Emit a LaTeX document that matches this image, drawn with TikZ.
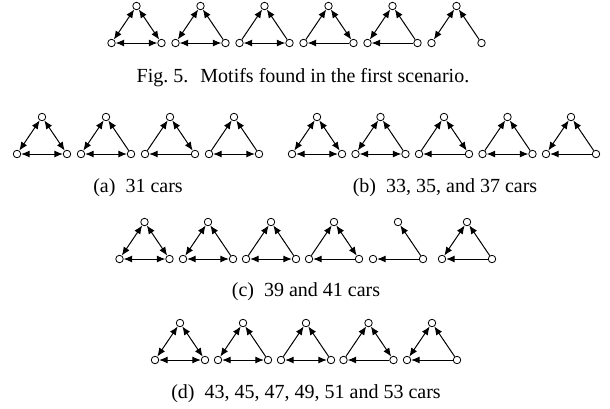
\documentclass[tikz,border=0pt]{standalone}
\usepackage{fontspec}
\setmainfont{Liberation Serif}
\usetikzlibrary{arrows.meta}
\tikzset{
  vtx/.style={circle,draw,line width=0.8pt,fill=white,inner sep=0pt,minimum size=7.5pt},
  tip/.tip={Latex[length=8.5pt,width=7pt]},
  bi/.style={line width=1pt,tip-tip},
  one/.style={line width=1pt,-tip},
  lbl/.style={anchor=base,inner sep=0pt,font=\fontsize{20}{24}\selectfont}
}
% three vertices of one motif: top, left, right
\newcommand\tri[3]{%
  \node[vtx] (#1t) at (#2,#3) {};
  \node[vtx] (#1l) at (#2-25,#3+37) {};
  \node[vtx] (#1r) at (#2+25,#3+37) {};}
\newcommand\mA[1]{\draw[bi] (#1t)--(#1l); \draw[bi] (#1t)--(#1r); \draw[bi] (#1l)--(#1r);}
\newcommand\mB[1]{\draw[bi] (#1t)--(#1l); \draw[one] (#1r)--(#1t); \draw[bi] (#1l)--(#1r);}
\newcommand\mC[1]{\draw[one] (#1l)--(#1t); \draw[one] (#1r)--(#1t); \draw[bi] (#1l)--(#1r);}
\newcommand\mD[1]{\draw[one] (#1l)--(#1t); \draw[bi] (#1t)--(#1r); \draw[one] (#1r)--(#1l);}
\newcommand\mE[1]{\draw[bi] (#1t)--(#1l); \draw[one] (#1r)--(#1t); \draw[one] (#1r)--(#1l);}
\newcommand\mF[1]{\draw[bi] (#1t)--(#1l); \draw[one] (#1r)--(#1t);}
\newcommand\mX[1]{\draw[one] (#1r)--(#1t); \draw[one] (#1r)--(#1l);}
\begin{document}
\begin{tikzpicture}[x=1pt,y=-1pt]
\useasboundingbox (0,0) rectangle (610,408);
% Row 1 (Fig. 5)
\tri{pa}{136.5}{6}\mA{pa}
\tri{pb}{200.5}{6}\mB{pb}
\tri{pc}{264.5}{6}\mC{pc}
\tri{pd}{328.5}{6}\mD{pd}
\tri{pe}{392.5}{6}\mE{pe}
\tri{pf}{456.5}{6}\mF{pf}
\node[lbl] (cap) at (303,82) {Fig.~5.\hspace{0.6em}Motifs found in the first scenario.};
% Row 2 (a)
\tri{aa}{42}{117}\mA{aa}
\tri{ab}{106}{117}\mB{ab}
\tri{ac}{170}{117}\mD{ac}
\tri{ad}{234}{117}\mC{ad}
\node[lbl] (la) at (138,192) {(a)\hspace{0.5em}31 cars};
% Row 2 (b)
\tri{ba}{317}{117}\mA{ba}
\tri{bb}{380.5}{117}\mB{bb}
\tri{bc}{444}{117}\mD{bc}
\tri{bd}{507.5}{117}\mC{bd}
\tri{be}{571}{117}\mE{be}
\node[lbl] (lb) at (445,192) {(b)\hspace{0.5em}33, 35, and 37 cars};
% Row 3 (c)
\tri{ca}{144.5}{222}\mA{ca}
\tri{cb}{208}{222}\mB{cb}
\tri{cc}{271}{222}\mC{cc}
\tri{cd}{334}{222}\mD{cd}
\node[vtx] (cet) at (398,222) {};
\node[vtx] (cel) at (373,259) {};
\node[vtx] (cer) at (423,259) {};
\mX{ce}
\tri{cf}{467}{222}\mE{cf}
\node[lbl] (lc) at (306,296) {(c)\hspace{0.5em}39 and 41 cars};
% Row 4 (d)
\tri{da}{180}{323}\mA{da}
\tri{db}{243}{323}\mB{db}
\tri{dc}{306}{323}\mC{dc}
\tri{dd}{368.5}{323}\mD{dd}
\tri{de}{432}{323}\mE{de}
\node[lbl] (ld) at (306,398) {(d)\hspace{0.5em}43, 45, 47, 49, 51 and 53 cars};
\end{tikzpicture}
\end{document}
